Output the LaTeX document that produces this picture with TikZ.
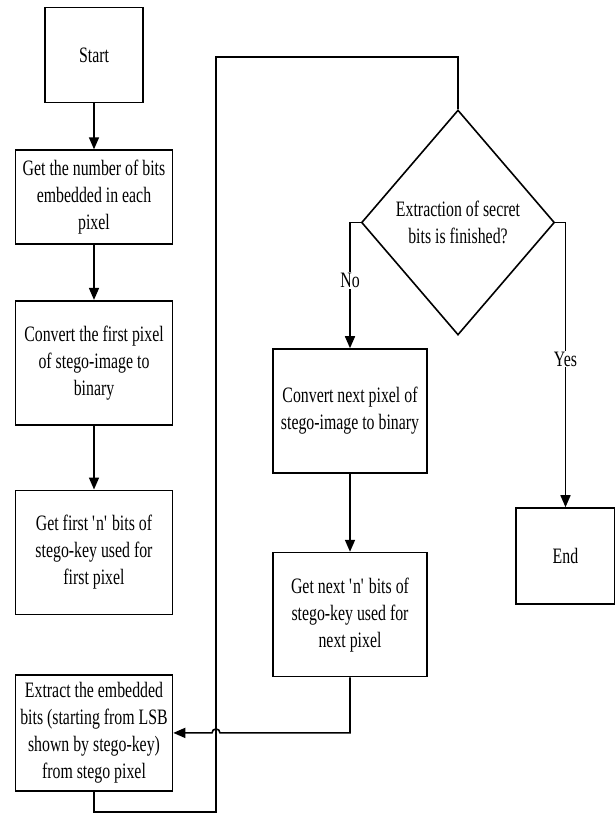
\documentclass[tikz,border=0pt]{standalone}
\usepackage{fontspec}
\setmainfont[FakeStretch=0.72]{Liberation Serif}
\usetikzlibrary{positioning,shapes.geometric,arrows.meta}

\begin{document}
\begin{tikzpicture}[
            x=1pt, y=1pt,
            node distance=55pt and 40pt,
            font=\fontsize{22}{27}\selectfont,
            block/.style={draw, line width=1.6pt, align=center, minimum width=157pt, inner sep=2pt},
            decision/.style={draw, diamond, line width=1.6pt, align=center, inner sep=0pt, minimum width=193pt, minimum height=225pt},
            flow/.style={line width=1.6pt, -{Triangle[length=12pt,width=10pt]}},
            link/.style={line width=1.6pt},
            answer/.style={fill=white, inner sep=1pt}
        ]
            \useasboundingbox (0,0) rectangle (615,-814);

            \node[block, minimum width=98pt, minimum height=95pt] (start) at (94,-55) {Start};
            \node[block, minimum height=94pt, below=46pt of start] (step1) {Get the number of bits\\embedded in each\\pixel};
            \node[block, minimum height=124pt, below=55pt of step1] (step2) {Convert the first pixel\\of stego-image to\\binary};
            \node[block, minimum height=124pt, below=64pt of step2] (step3) {Get first \textquotesingle n\textquotesingle{} bits of\\stego-key used for\\first pixel};
            \node[block, minimum height=116pt, below=59pt of step3] (step4) {Extract the embedded\\bits (starting from LSB\\shown by stego-key)\\from stego pixel};

            \node[decision] (check) at (458,-222.5) {Extraction of secret\\bits is finished?};
            \node[block, minimum width=154pt, minimum height=124pt] (step5) at (350,-411) {Convert next pixel of\\stego-image to binary};
            \node[block, minimum width=154pt, minimum height=124pt, below=78pt of step5] (step6) {Get next \textquotesingle n\textquotesingle{} bits of\\stego-key used for\\next pixel};
            \node[block, minimum width=99pt, minimum height=96pt] (stop) at (565.5,-556) {End};

            \coordinate (lowturn) at (216,-812);
            \coordinate (topturn) at (216,-57);
            \coordinate (hop) at (topturn |- step4.east);

            \draw[flow] (start) -- (step1);
            \draw[flow] (step1) -- (step2);
            \draw[flow] (step2) -- (step3);
            \draw[flow] (check.west) -| node[answer, pos=0.73] {No} (step5.north);
            \draw[flow] (check.east) -| node[answer, pos=0.74] {Yes} (stop.north);
            \draw[flow] (step5) -- (step6);
            \draw[flow] (step6.south) |- ([xshift=4pt]hop) arc[start angle=0, end angle=180, radius=4pt] -- (step4.east);
            \draw[link] (step4.south) |- (lowturn) -- (topturn) -| (check.north);

        \end{tikzpicture}
\end{document}
